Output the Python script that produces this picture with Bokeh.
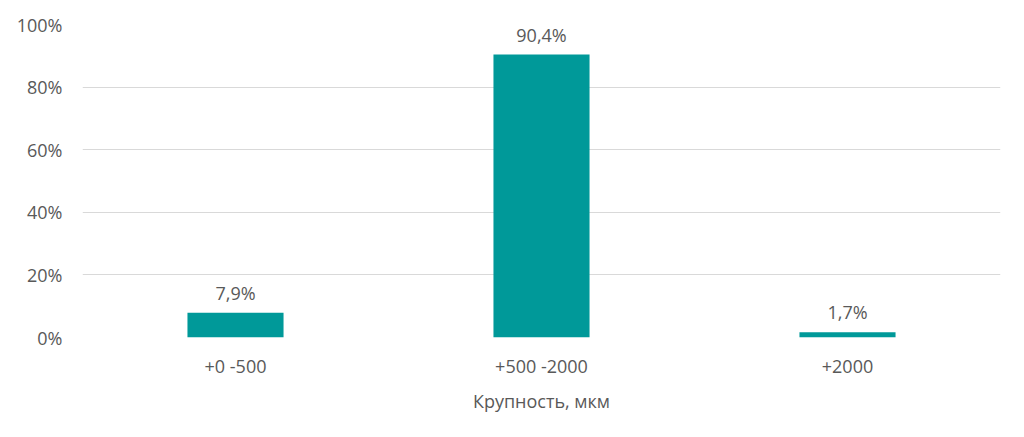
from bokeh.plotting import figure
from bokeh.models import FactorRange, Range1d, ColumnDataSource, FixedTicker, CustomJSTickFormatter
from bokeh.embed import file_html
from bokeh.resources import INLINE
from bokeh.core.properties import value

categories = ["+0 -500", "+500 -2000", "+2000"]
values = [7.9, 90.4, 1.7]
labels = ["7,9%", "90,4%", "1,7%"]
y_ticks = [0, 20, 40, 60, 80, 100]

FONT = "Open Sans"
TXT = "#595959"
FS = "18px"

src = ColumnDataSource(dict(cat=categories, val=values, lab=labels))

p = figure(width=1008, height=421, output_backend="svg", toolbar_location=None,
           x_range=FactorRange(factors=categories, range_padding=0),
           y_range=Range1d(0, 100),
           min_border_left=82, min_border_right=8, min_border_top=24, min_border_bottom=84)
p.outline_line_color = None
p.background_fill_color = "white"
p.border_fill_color = "white"

p.vbar(x="cat", top="val", width=0.314, source=src, color="#009999", line_color=None)
p.text(x="cat", y="val", text="lab", source=src, text_align="center", text_baseline="bottom",
       y_offset=-8, text_font=value(FONT), text_font_size=FS, text_color=TXT)

p.xgrid.grid_line_color = None
p.ygrid.grid_line_color = "#d9d9d9"
p.ygrid.grid_line_width = 1
p.yaxis.ticker = FixedTicker(ticks=y_ticks)
p.yaxis.formatter = CustomJSTickFormatter(code="return tick + '%';")

for ax in (p.xaxis[0], p.yaxis[0]):
    ax.axis_line_color = None
    ax.major_tick_line_color = None
    ax.minor_tick_line_color = None
    ax.major_label_text_font = FONT
    ax.major_label_text_font_size = FS
    ax.major_label_text_color = TXT

p.yaxis.major_label_standoff = 14
p.xaxis.major_label_standoff = 10
p.xaxis.axis_label = "Крупность, мкм"
p.xaxis.axis_label_text_font = FONT
p.xaxis.axis_label_text_font_size = FS
p.xaxis.axis_label_text_font_style = "normal"
p.xaxis.axis_label_text_color = TXT
p.xaxis.axis_label_standoff = 8

open("out.html", "w").write(file_html(p, INLINE))
